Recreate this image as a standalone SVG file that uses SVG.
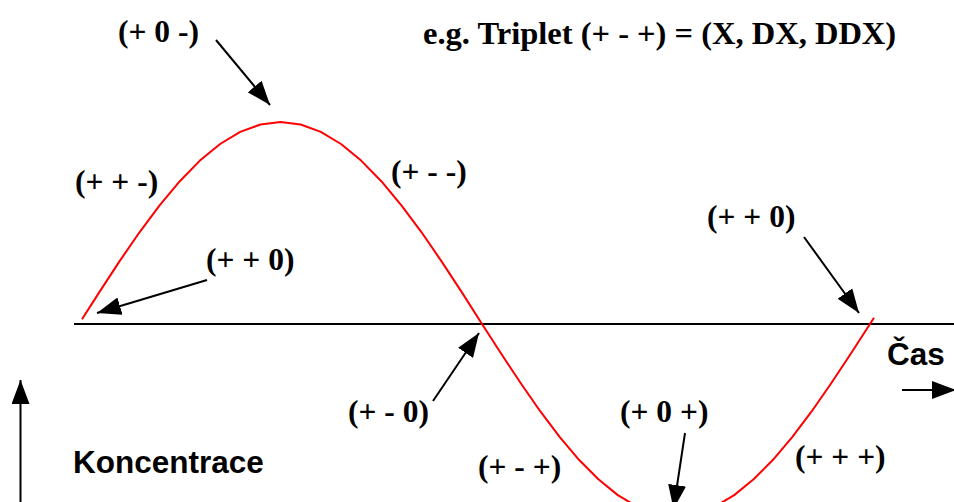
<svg xmlns="http://www.w3.org/2000/svg" width="954" height="502" viewBox="0 0 954 502">
<style>
.lbl{font-family:"Liberation Serif","Times New Roman",serif;font-weight:bold;font-size:31.5px;fill:#000}
.big{font-size:32.5px}
.sans{font-family:"Liberation Sans",Arial,sans-serif;font-weight:bold;font-size:31.5px;fill:#000}
.arr{stroke:#000;stroke-width:2;fill:none;marker-end:url(#ah)}
.axis{stroke:#000;stroke-width:2;fill:none}
.curve{stroke:#ff0000;stroke-width:2;fill:none;stroke-linejoin:round}
</style>
<defs>
<marker id="ah" viewBox="0 0 24 18" markerWidth="24" markerHeight="18" refX="24" refY="9" orient="auto" markerUnits="userSpaceOnUse">
<path d="M0,0 L24,9 L0,18 z" fill="#000"/>
</marker>
</defs>
<rect width="954" height="502" fill="#fff"/>
<g id="axis">
<line class="axis" x1="74" y1="324" x2="954" y2="324"/>
</g>
<g id="curve">
<polyline class="curve" points="82,319.3 99.2,292.4 119.3,261.6 139.5,232.3 159.6,205.3 179.8,181.2 199.9,160.6 220.1,144 240.2,131.9 260.4,124.5 280.5,122 300.7,124.5 320.8,131.9 341,144 361.1,160.6 381.3,181.2 401.4,205.3 421.6,232.3 441.7,261.6 461.9,292.4 482,324 501.4,354 520.8,383.3 540.2,411.2 559.6,436.9 579,459.8 598.4,479.3 617.8,495.1 637.2,506.6 656.6,513.6 676,516 695.4,513.6 714.8,506.6 734.2,495.1 753.6,479.3 773,459.8 792.4,436.9 811.8,411.2 831.2,383.3 850.6,354 870,324 874,317.8"/>
</g>
<g id="connectors">
<line class="arr" x1="216" y1="40" x2="270" y2="105"/>
<line class="arr" x1="207" y1="280" x2="97" y2="313"/>
<line class="arr" x1="433" y1="401" x2="479" y2="333"/>
<line class="arr" x1="804" y1="237" x2="859" y2="313"/>
<line class="arr" x1="685" y1="433" x2="673.5" y2="509"/>
<line class="arr" x1="902" y1="390" x2="956" y2="390"/>
<line class="arr" x1="20.5" y1="502" x2="20.5" y2="380"/>
</g>
<g id="n-p0m"><text class="lbl" x="118" y="41.5">(+ 0 -)</text></g>
<g id="n-example"><text class="lbl big" x="423" y="44">e.g. Triplet (+ - +) = (X, DX, DDX)</text></g>
<g id="n-ppm"><text class="lbl" x="75" y="191.5">(+ + -)</text></g>
<g id="n-pmm"><text class="lbl" x="391" y="181.5">(+ - -)</text></g>
<g id="n-pp0-left"><text class="lbl" x="206" y="269.5">(+ + 0)</text></g>
<g id="n-pp0-right"><text class="lbl" x="707" y="226.5">(+ + 0)</text></g>
<g id="n-pm0"><text class="lbl" x="348" y="421.5">(+ - 0)</text></g>
<g id="n-p0p"><text class="lbl" x="620" y="421.5">(+ 0 +)</text></g>
<g id="n-pmp"><text class="lbl" x="478" y="476.5">(+ - +)</text></g>
<g id="n-ppp"><text class="lbl" x="795" y="466.5">(+ + +)</text></g>
<g id="n-cas"><text class="sans" x="887" y="365">Čas</text></g>
<g id="n-koncentrace"><text class="sans" x="73" y="473">Koncentrace</text></g>
</svg>
